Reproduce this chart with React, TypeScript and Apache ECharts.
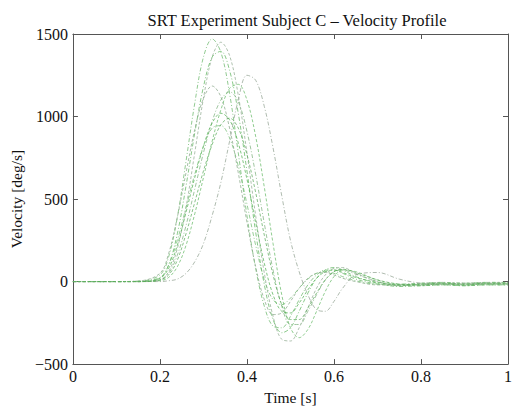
import React, { useEffect, useRef } from "react";
import * as echarts from "echarts";

const titleText = "SRT Experiment Subject C \u2013 Velocity Profile";
const xName = "Time [s]";
const yName = "Velocity [deg/s]";

const time = [0, 0.1, 0.15, 0.2, 0.22, 0.24, 0.26, 0.28, 0.3, 0.32, 0.34, 0.36, 0.38, 0.4, 0.42, 0.44, 0.46, 0.48, 0.5, 0.52, 0.54, 0.56, 0.58, 0.6, 0.62, 0.65, 0.7, 0.75, 0.8, 0.85, 0.9, 0.95, 1.0];

const trialA = [0, 0, 2, 40, 150, 390, 730, 1080, 1360, 1470, 1390, 1140, 780, 400, 80, -150, -270, -280, -210, -110, -20, 40, 70, 70, 50, 15, -15, -25, -15, -10, -15, -10, -10];
const trialB = [0, 0, 0, 10, 60, 200, 450, 780, 1110, 1360, 1450, 1370, 1130, 780, 400, 50, -210, -350, -360, -280, -160, -40, 40, 80, 85, 50, 0, -25, -20, -15, -20, -15, -15];
const trialC = [0, 0, 0, 20, 100, 290, 580, 900, 1180, 1360, 1395, 1280, 1020, 670, 300, -20, -230, -310, -280, -180, -70, 20, 70, 85, 70, 30, -10, -30, -25, -20, -25, -20, -20];
const trialD = [0, 0, 3, 50, 170, 390, 660, 920, 1110, 1185, 1120, 930, 660, 360, 90, -110, -200, -190, -120, -40, 20, 50, 55, 40, 20, 0, -20, -20, -10, -5, -10, -5, -5];
const trialE = [0, 0, 0, 0, 5, 15, 50, 120, 230, 400, 600, 850, 1100, 1250, 1220, 1060, 810, 520, 250, 60, -80, -170, -180, -120, -40, 40, 55, 15, -10, -15, -10, -10, -10];
const trialF = [0, 0, 0, 5, 25, 90, 220, 410, 630, 850, 1040, 1170, 1195, 1100, 880, 570, 230, -80, -280, -340, -290, -180, -60, 30, 70, 60, 10, -20, -25, -20, -25, -20, -20];
const trialG = [0, 0, 0, 10, 50, 160, 340, 560, 780, 970, 1100, 1150, 1090, 910, 650, 350, 70, -150, -260, -260, -180, -80, 10, 60, 70, 45, 0, -20, -20, -15, -20, -15, -15];
const trialH = [0, 0, 0, 20, 80, 220, 420, 630, 820, 960, 1020, 980, 840, 620, 360, 110, -80, -180, -190, -130, -50, 20, 60, 70, 55, 25, -5, -20, -15, -10, -15, -10, -10];
const trialI = [0, 0, 2, 25, 100, 250, 450, 650, 820, 930, 945, 870, 700, 470, 220, 10, -110, -140, -100, -40, 15, 50, 60, 50, 30, 5, -15, -15, -10, -5, -10, -5, -5];
const trialJ = [0, 0, 0, 10, 40, 130, 290, 480, 670, 830, 950, 990, 930, 770, 540, 280, 40, -140, -230, -230, -160, -70, 10, 60, 75, 55, 10, -15, -20, -15, -20, -15, -15];

const trials = [trialA, trialB, trialC, trialD, trialE, trialF, trialG, trialH, trialI, trialJ];

const xTicks = [0, 0.2, 0.4, 0.6, 0.8, 1];
const yTicks = [-500, 0, 500, 1000, 1500];

const lineColors = [
  "rgba(110,185,110,0.85)",
  "rgba(150,175,150,0.85)",
  "rgba(90,180,90,0.8)",
  "rgba(140,170,140,0.85)",
  "rgba(150,165,150,0.85)",
  "rgba(100,185,100,0.8)",
  "rgba(130,180,130,0.85)",
  "rgba(80,175,80,0.8)",
  "rgba(120,190,120,0.85)",
  "rgba(90,170,90,0.8)",
];

const font = "'Liberation Serif', 'Times New Roman', serif";

function axisLine() {
  return { show: true, onZero: false, lineStyle: { color: "#555", width: 1 } };
}
function tick() {
  return { show: true, inside: true, length: 5, lineStyle: { color: "#555", width: 1 } };
}

export default function App() {
  const ref = useRef<HTMLDivElement>(null);
  useEffect(() => {
    if (!ref.current) return;
    const chart = echarts.init(ref.current, null, { renderer: "svg" });
    const series = trials.map((vals, i) => ({
      type: "line",
      xAxisIndex: 0,
      yAxisIndex: 0,
      data: vals.map((v, k) => [time[k], v]),
      smooth: 0.35,
      showSymbol: false,
      symbol: "none",
      lineStyle: {
        color: lineColors[i],
        width: 0.9,
        type: i % 2 === 0 ? [4, 2, 1, 2] : [3, 2],
      },
      z: 2,
    }));
    chart.setOption({
      animation: false,
      backgroundColor: "#fff",
      title: {
        text: titleText,
        left: 292,
        textAlign: "center",
        top: 7,
        textStyle: { fontFamily: font, fontSize: 16.5, fontWeight: "normal", color: "#111" },
      },
      grid: { left: 70, right: 3, top: 34, bottom: 45, containLabel: false },
      xAxis: [
        {
          type: "value",
          position: "bottom",
          min: 0,
          max: 1,
          interval: 0.2,
          name: xName,
          nameLocation: "middle",
          nameGap: 21,
          nameTextStyle: { fontFamily: font, fontSize: 15.5, color: "#111" },
          axisLine: axisLine(),
          axisTick: tick(),
          splitLine: { show: false },
          axisLabel: {
            fontFamily: font,
            fontSize: 16,
            color: "#111",
            margin: 4,
            formatter: (v: number) => (xTicks.includes(Number(v.toFixed(2))) ? String(Number(v.toFixed(2))) : ""),
          },
        },
        {
          type: "value",
          position: "top",
          min: 0,
          max: 1,
          interval: 0.2,
          axisLine: axisLine(),
          axisTick: tick(),
          axisLabel: { show: false },
          splitLine: { show: false },
        },
      ],
      yAxis: [
        {
          type: "value",
          position: "left",
          min: -500,
          max: 1500,
          interval: 500,
          name: yName,
          nameLocation: "middle",
          nameGap: 44,
          nameRotate: 90,
          nameTextStyle: { fontFamily: font, fontSize: 15.5, color: "#111" },
          axisLine: axisLine(),
          axisTick: tick(),
          splitLine: { show: false },
          axisLabel: {
            fontFamily: font,
            fontSize: 16,
            color: "#111",
            margin: 5,
            formatter: (v: number) => (yTicks.includes(v) ? String(v).replace("-", "\u2212") : ""),
          },
        },
        {
          type: "value",
          position: "right",
          min: -500,
          max: 1500,
          interval: 500,
          axisLine: axisLine(),
          axisTick: tick(),
          axisLabel: { show: false },
          splitLine: { show: false },
        },
      ],
      series,
    });
    return () => chart.dispose();
  }, []);
  return <div ref={ref} style={{ width: 515, height: 410, position: "absolute", left: 0, top: 0 }} />;
}
